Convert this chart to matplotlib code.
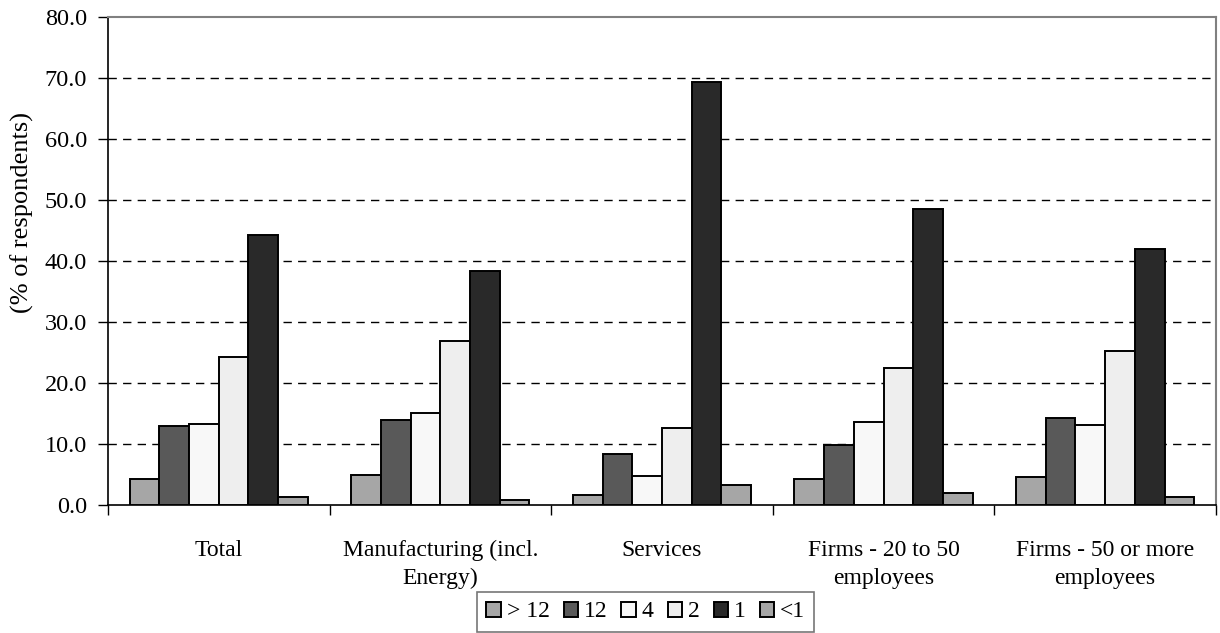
import matplotlib
matplotlib.use("Agg")
import matplotlib.pyplot as plt
import numpy as np
from matplotlib.ticker import FormatStrFormatter, FixedLocator

plt.rcParams['font.family'] = ['Liberation Serif', 'DejaVu Serif']

categories = ["Total", "Manufacturing (incl.\nEnergy)", "Services",
              "Firms - 20 to 50\nemployees", "Firms - 50 or more\nemployees"]
series_names = ["> 12", "12", "4", "2", "1", "<1"]
values = {
    "> 12": [4.3, 4.9, 1.6, 4.3, 4.6],
    "12":   [12.9, 13.9, 8.3, 9.9, 14.2],
    "4":    [13.3, 15.1, 4.8, 13.6, 13.2],
    "2":    [24.3, 26.9, 12.6, 22.4, 25.3],
    "1":    [44.3, 38.4, 69.3, 48.6, 42.0],
    "<1":   [1.3, 0.9, 3.2, 1.9, 1.3],
}
colors = ["#a6a6a6", "#595959", "#f8f8f8", "#eeeeee", "#292929", "#a6a6a6"]
fs = 17

fig = plt.figure(figsize=(12.2, 6.33), dpi=100)
ax = fig.add_axes([0.0885, 0.2022, 0.9082, 0.7708])

x = np.arange(len(categories))
bw = 0.134
for i, name in enumerate(series_names):
    offs = (i - 2.5) * bw
    ax.bar(x + offs, values[name], width=bw, color=colors[i],
           edgecolor="black", linewidth=1.4, label=name, zorder=3)

ax.set_xlim(-0.5, len(categories) - 0.5)
ax.set_ylim(0, 80)
ax.set_yticks(np.arange(0, 81, 10))
ax.yaxis.set_major_formatter(FormatStrFormatter("%.1f"))
for yv in range(10, 80, 10):
    ax.axhline(yv, color="black", lw=1, ls=(0, (6, 4.5)), zorder=1)

ax.set_xticks(x)
ax.set_xticklabels(categories, fontsize=fs, linespacing=1.45)
ax.tick_params(axis="x", which="major", length=0, pad=25)
ax.xaxis.set_minor_locator(FixedLocator(np.arange(-0.5, len(categories), 1)))
ax.tick_params(axis="x", which="minor", length=7, width=1, direction="out")
ax.tick_params(axis="y", length=7, width=1, direction="out", labelsize=17.5, pad=8)

# label sits higher than the axes centre
ax.set_ylabel("(% of respondents)", fontsize=19)
ax.yaxis.set_label_coords(-0.067, 0.6)

for side in ["top", "right"]:
    ax.spines[side].set_color("#808080")
    ax.spines[side].set_linewidth(1.5)
for side in ["left", "bottom"]:
    ax.spines[side].set_color("black")
    ax.spines[side].set_linewidth(1.2)

leg = fig.legend(loc="upper left", bbox_to_anchor=(477 / 1220, 1 - 592 / 633),
                 ncol=6, fontsize=fs, frameon=True, fancybox=False,
                 handlelength=0.6, handleheight=0.6, handletextpad=0.25,
                 columnspacing=0.6, borderpad=0.4, borderaxespad=0)
leg.get_frame().set_edgecolor("#555555")
leg.get_frame().set_linewidth(1.2)

fig.savefig("out.png", dpi=100)
